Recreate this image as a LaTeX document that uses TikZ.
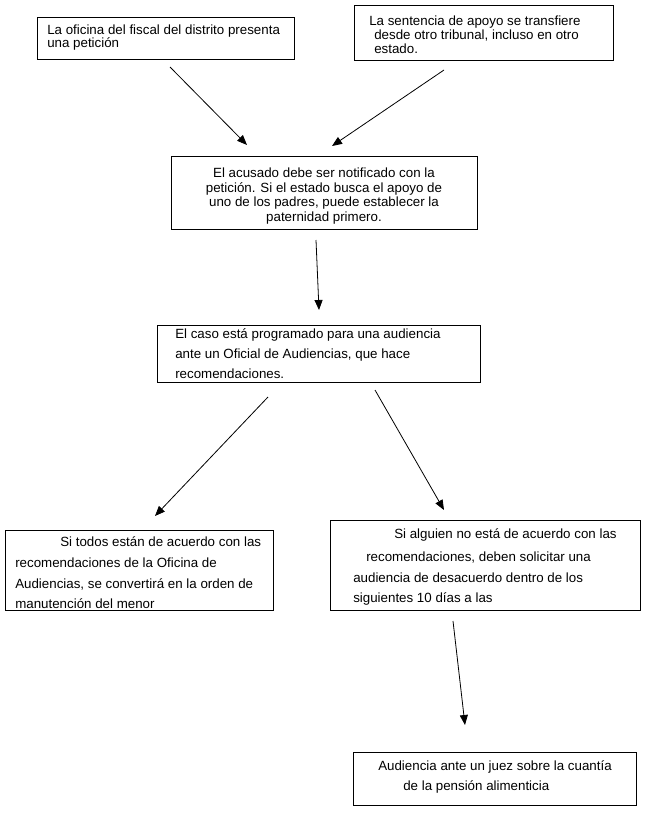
\documentclass[tikz,border=0pt]{standalone}
\usepackage{fontspec}
\setmainfont{Liberation Sans}
\usetikzlibrary{arrows.meta}
\tikzset{
  box/.style={draw=black, line width=0.75pt, rectangle, inner sep=0pt, anchor=north west},
  txt/.style={inner sep=0pt, anchor=base west, font=\fontsize{10pt}{12pt}\selectfont},
  txtc/.style={inner sep=0pt, anchor=base, font=\fontsize{10pt}{12pt}\selectfont},
  arr/.style={draw=black, line width=0.6pt, -{Triangle[length=7.5pt,width=6pt]}}
}
\begin{document}
\begin{tikzpicture}[x=0.75pt,y=-0.75pt]
\useasboundingbox[fill=white] (0,0) rectangle (657,818);
% boxes
\node[box, minimum width=192.75pt, minimum height=31.5pt] (b1) at (37,17) {};
\node[box, minimum width=194.25pt, minimum height=41.25pt] (b2) at (354,5) {};
\node[box, minimum width=229.5pt, minimum height=54.75pt] (b3) at (171,156) {};
\node[box, minimum width=242.25pt, minimum height=42.75pt] (b4) at (157,325) {};
\node[box, minimum width=201pt, minimum height=60pt] (b5) at (5,530) {};
\node[box, minimum width=232.5pt, minimum height=67.5pt] (b6) at (330,520) {};
\node[box, minimum width=212.25pt, minimum height=39.75pt] (b7) at (353,752) {};
% texts
\node[txt] (t1a) at (47,34) {La oficina del fiscal del distrito presenta};
\node[txt] (t1b) at (47,47) {una petición};
\node[txt] (t2a) at (369,25) {La sentencia de apoyo se transfiere};
\node[txt] (t2b) at (374,39) {desde otro tribunal, incluso en otro};
\node[txt] (t2c) at (374,53) {estado.};
\node[txtc] (t3a) at (324,177) {El acusado debe ser notificado con la};
\node[txtc] (t3b) at (324,192) {petición. Si el estado busca el apoyo de};
\node[txtc] (t3c) at (324,206) {uno de los padres, puede establecer la};
\node[txtc] (t3d) at (324,221) {paternidad primero.};
\node[txt] (t4a) at (175,338) {El caso está programado para una audiencia};
\node[txt] (t4b) at (175,358) {ante un Oficial de Audiencias, que hace};
\node[txt] (t4c) at (175,378) {recomendaciones.};
\node[txt] (t5a) at (60,546) {Si todos están de acuerdo con las};
\node[txt] (t5b) at (15,567) {recomendaciones de la Oficina de};
\node[txt] (t5c) at (15,588) {Audiencias, se convertirá en la orden de};
\node[txt] (t5d) at (15,608) {manutención del menor};
\node[txt] (t6a) at (394,538) {Si alguien no está de acuerdo con las};
\node[txt] (t6b) at (366,561) {recomendaciones, deben solicitar una};
\node[txt] (t6c) at (353,582) {audiencia de desacuerdo dentro de los};
\node[txt] (t6d) at (353,602) {siguientes 10 días a las};
\node[txt] (t7a) at (378,770) {Audiencia ante un juez sobre la cuantía};
\node[txt] (t7b) at (403,790) {de la pensión alimenticia};
% arrow end points
\coordinate (a1s) at (170,67);
\coordinate (a1e) at (247,145);
\coordinate (a2s) at (444,70);
\coordinate (a2e) at (332,146);
\coordinate (a3s) at (316,240);
\coordinate (a3e) at (319,310);
\coordinate (a4s) at (268,397);
\coordinate (a4e) at (155,516);
\coordinate (a5s) at (375,390);
\coordinate (a5e) at (444,510);
\coordinate (a6s) at (453,621);
\coordinate (a6e) at (465,725);
\draw[arr] (a1s) -- (a1e);
\draw[arr] (a2s) -- (a2e);
\draw[arr] (a3s) -- (a3e);
\draw[arr] (a4s) -- (a4e);
\draw[arr] (a5s) -- (a5e);
\draw[arr] (a6s) -- (a6e);
\end{tikzpicture}
\end{document}
